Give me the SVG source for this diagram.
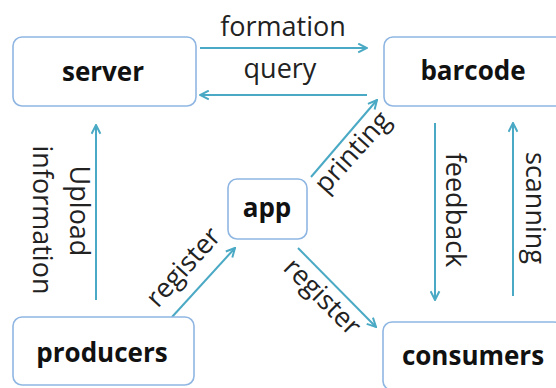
<svg xmlns="http://www.w3.org/2000/svg" width="556" height="388" viewBox="0 0 556 388">
<style>
.box{fill:#fff;stroke:#8fb6e2;stroke-width:1.6}
.lbl{font-family:"Open Sans","Liberation Sans",sans-serif;font-weight:bold;font-size:26px;fill:#111;text-anchor:middle}
.edge{fill:none;stroke:#4aa9c4;stroke-width:2;marker-end:url(#ah)}
.et{font-family:"Open Sans","Liberation Sans",sans-serif;font-size:27px;fill:#222;text-anchor:middle}
</style>
<defs>
<marker id="ah" viewBox="0 0 10 10" refX="9" refY="5" markerUnits="userSpaceOnUse" markerWidth="11" markerHeight="11" orient="auto">
<path d="M1,1 L9,5 L1,9" fill="none" stroke="#4aa9c4" stroke-width="1.8"/>
</marker>
</defs>
<g id="connectors">
<path class="edge" d="M200,48 H367"/>
<path class="edge" d="M367,95 H200"/>
<path class="edge" d="M96,300 V125"/>
<path class="edge" d="M435,123 V300"/>
<path class="edge" d="M513,296 V123"/>
<path class="edge" d="M311,177 L377,100"/>
<path class="edge" d="M172,317 L235,248"/>
<path class="edge" d="M298,248 L376,327"/>
<text class="et" x="283" y="36">formation</text>
<text class="et" x="280" y="78">query</text>
<text class="et" transform="translate(70,211) rotate(90)">Upload</text>
<text class="et" transform="translate(33,220) rotate(90)">information</text>
<text class="et" transform="translate(446,210) rotate(90)">feedback</text>
<text class="et" transform="translate(526,208) rotate(90)">scanning</text>
<text class="et" transform="translate(359,158) rotate(-48)">printing</text>
<text class="et" transform="translate(190,273) rotate(-48)">register</text>
<text class="et" transform="translate(316,303) rotate(45)">register</text>
</g>
<g id="server"><rect class="box" x="13" y="37" width="183" height="69" rx="9"/><text class="lbl" x="103" y="81">server</text></g>
<g id="barcode"><rect class="box" x="384" y="37" width="180" height="69" rx="9"/><text class="lbl" x="473" y="80">barcode</text></g>
<g id="app"><rect class="box" x="228" y="179" width="79" height="60" rx="9"/><text class="lbl" x="267" y="217">app</text></g>
<g id="producers"><rect class="box" x="13" y="317" width="181" height="68" rx="9"/><text class="lbl" x="102" y="362">producers</text></g>
<g id="consumers"><rect class="box" x="383" y="322" width="180" height="68" rx="9"/><text class="lbl" x="473" y="365">consumers</text></g>
</svg>
